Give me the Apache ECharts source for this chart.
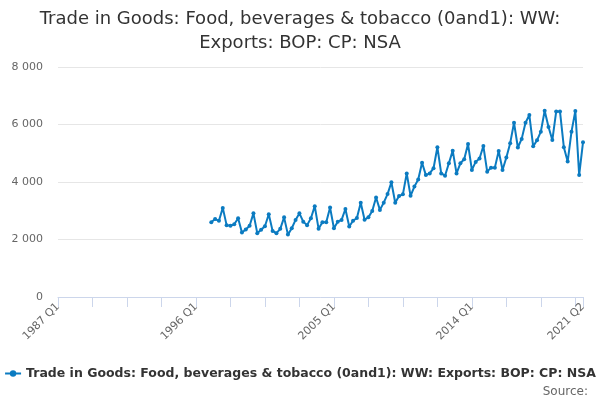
<!DOCTYPE html>
<html lang="en">
<head>
    <meta charset="UTF-8">
    <title>Trade in Goods: Food, beverages & tobacco</title>
    <script src="https://cdn.jsdelivr.net/npm/echarts@6/dist/echarts.min.js"></script>
    <style>
        body { margin: 0; background: #fff; }
        #chart { width: 600px; height: 400px; }
    </style>
</head>
<body>
    <div id="chart"></div>

    <script type="text/javascript">
        // quarters 1987 Q1 .. 2021 Q2
        var firstYear = 1987;
        var lastYear = 2021;
        var lastQuarter = 2;

        // series starts 1997 Q1, values in £ million, one row per year (Q1..Q4)
        var dataStartYear = 1997;
        var exportsByYear = [
            [2600, 2710, 2650, 3100], // 1997
            [2500, 2480, 2530, 2740], // 1998
            [2240, 2350, 2480, 2910], // 1999
            [2220, 2340, 2460, 2880], // 2000
            [2300, 2220, 2370, 2770], // 2001
            [2170, 2390, 2680, 2910], // 2002
            [2620, 2500, 2740, 3160], // 2003
            [2370, 2600, 2600, 3110], // 2004
            [2390, 2620, 2680, 3060], // 2005
            [2450, 2650, 2750, 3280], // 2006
            [2690, 2770, 2990, 3460], // 2007
            [3030, 3280, 3580, 3990], // 2008
            [3280, 3510, 3570, 4300], // 2009
            [3520, 3840, 4090, 4670], // 2010
            [4240, 4300, 4480, 5210], // 2011
            [4300, 4220, 4650, 5090], // 2012
            [4300, 4650, 4790, 5320], // 2013
            [4420, 4700, 4820, 5250], // 2014
            [4360, 4500, 4500, 5080], // 2015
            [4420, 4850, 5350, 6060], // 2016
            [5200, 5500, 6060, 6330], // 2017
            [5240, 5450, 5750, 6480], // 2018
            [5910, 5460, 6450, 6450], // 2019
            [5210, 4710, 5750, 6470], // 2020
            [4240, 5380]              // 2021
        ];

        var seriesName = 'Trade in Goods: Food, beverages & tobacco (0and1): WW: Exports: BOP: CP: NSA';

        var categories = [];
        for (var y = firstYear; y <= lastYear; y++) {
            for (var q = 1; q <= 4; q++) {
                if (y === lastYear && q > lastQuarter) break;
                categories.push(y + ' Q' + q);
            }
        }

        var values = [];
        var startIndex = categories.indexOf(dataStartYear + ' Q1');
        for (var i = 0; i < startIndex; i++) values.push(null);
        exportsByYear.forEach(function (row) {
            row.forEach(function (v) { values.push(v); });
        });

        var lastIndex = categories.length - 1;

        var chart = echarts.init(document.getElementById('chart'));
        chart.setOption({
            animation: false,
            textStyle: { fontFamily: 'DejaVu Sans' },
            title: {
                text: 'Trade in Goods: Food, beverages & tobacco (0and1): WW:\nExports: BOP: CP: NSA',
                left: 'center',
                top: 2,
                textStyle: {
                    fontSize: 18,
                    fontWeight: 'normal',
                    color: '#333333',
                    lineHeight: 24
                }
            },
            legend: {
                data: [seriesName],
                left: 'center',
                top: 362,
                itemWidth: 16,
                itemHeight: 8,
                itemGap: 4,
                textStyle: { fontSize: 12.5, fontWeight: 'bold', color: '#333333' }
            },
            graphic: [{
                type: 'text',
                right: 12,
                top: 386,
                style: { text: 'Source:', fill: '#666666', fontSize: 12, fontFamily: 'DejaVu Sans' }
            }],
            grid: { left: 58, right: 17, top: 67, bottom: 103 },
            xAxis: {
                type: 'category',
                data: categories,
                boundaryGap: false,
                axisLine: { lineStyle: { color: '#ccd6eb' } },
                axisTick: {
                    length: 10,
                    lineStyle: { color: '#ccd6eb' },
                    interval: function (idx) { return idx % 9 === 0 || idx === lastIndex; }
                },
                axisLabel: {
                    rotate: 45,
                    color: '#666666',
                    fontSize: 11,
                    margin: 8,
                    interval: function (idx) { return idx % 36 === 0 || idx === lastIndex; }
                }
            },
            yAxis: {
                type: 'value',
                min: 0,
                max: 8000,
                interval: 2000,
                axisLine: { show: false },
                axisTick: { show: false },
                splitLine: { lineStyle: { color: '#e6e6e6' } },
                axisLabel: {
                    color: '#666666',
                    fontSize: 11,
                    margin: 15,
                    formatter: function (v) {
                        return String(v).replace(/\B(?=(\d{3})+(?!\d))/g, ' ');
                    }
                }
            },
            series: [{
                name: seriesName,
                type: 'line',
                data: values,
                connectNulls: false,
                symbol: 'circle',
                symbolSize: 4,
                showSymbol: true,
                showAllSymbol: true,
                itemStyle: { color: '#0b7bc1' },
                lineStyle: { width: 2, color: '#0b7bc1' }
            }]
        });
    </script>
</body>
</html>
